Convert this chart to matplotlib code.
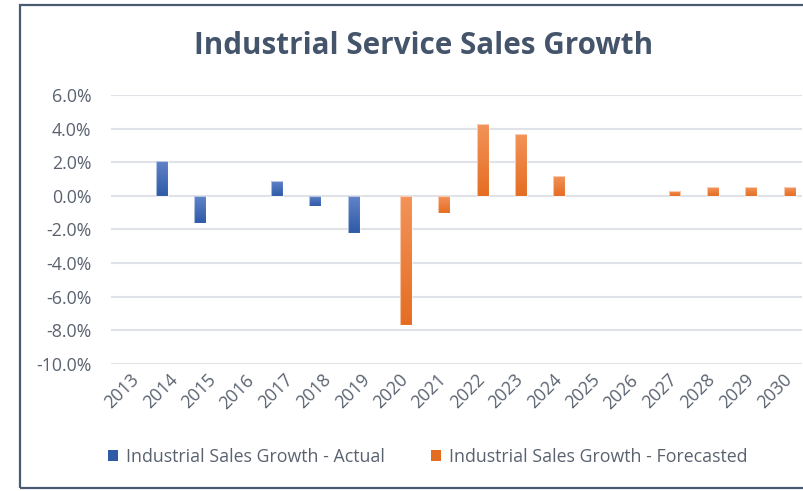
import numpy as np
import matplotlib
matplotlib.use("Agg")
import matplotlib.pyplot as plt
from matplotlib.patches import Rectangle, Patch
from matplotlib.colors import LinearSegmentedColormap
from matplotlib.ticker import FuncFormatter

plt.rcParams['font.family'] = ['Open Sans', 'DejaVu Sans']

years = [str(y) for y in range(2013, 2031)]
actual = [np.nan, 2.1, -1.6, np.nan, 0.9, -0.6, -2.2, np.nan, np.nan, np.nan,
          np.nan, np.nan, np.nan, np.nan, np.nan, np.nan, np.nan, np.nan]
forecast = [np.nan, np.nan, np.nan, np.nan, np.nan, np.nan, np.nan, -7.7, -1.0, 4.25,
            3.7, 1.2, np.nan, np.nan, 0.3, 0.5, 0.5, 0.5]
yticks = [6, 4, 2, 0, -2, -4, -6, -8, -10]

series_names = ["Industrial Sales Growth - Actual", "Industrial Sales Growth - Forecasted"]
blue_top, blue_bottom = "#6184c8", "#2e5aa8"
orange_top, orange_bottom = "#f39359", "#e56d22"

fig = plt.figure(figsize=(8.04, 4.91), dpi=100)
ax = fig.add_axes([0.138, 0.2587, 0.8595, 0.5478])

x = np.arange(len(years))
width = 0.31
offset = 0.18


def gradient_bars(bars, c_top, c_bottom):
    cmap = LinearSegmentedColormap.from_list("g", [c_top, c_bottom])
    grad = np.linspace(0, 1, 256).reshape(-1, 1)
    for b in bars:
        h = b.get_height()
        if not np.isfinite(h):
            continue
        x0, y0 = b.get_x(), b.get_y()
        w = b.get_width()
        ylo, yhi = min(y0, y0 + h), max(y0, y0 + h)
        im = ax.imshow(grad, cmap=cmap, extent=[x0, x0 + w, ylo, yhi],
                       aspect='auto', origin='upper', zorder=3,
                       interpolation='bilinear')
        im.set_clip_path(b)
        b.set_facecolor('none')
        b.set_edgecolor((1, 1, 1, 0.55))
        b.set_linewidth(0.8)
        b.set_zorder(4)


b1 = ax.bar(x - offset, actual, width=width, zorder=3)
b2 = ax.bar(x + offset, forecast, width=width, zorder=3)
gradient_bars(b1, blue_top, blue_bottom)
gradient_bars(b2, orange_top, orange_bottom)

ax.set_xlim(-0.5, len(years) - 0.5)
ax.set_ylim(-10, 6)
ax.set_yticks(yticks)
ax.yaxis.set_major_formatter(FuncFormatter(lambda v, p: f"{v:.1f}%"))
ax.grid(axis='y', color='#dfe3e8', linewidth=1.5, zorder=0)
ax.set_axisbelow(True)
for s in ax.spines.values():
    s.set_visible(False)

ax.set_xticks(x)
ax.set_xticklabels(years, rotation=45, ha='right', rotation_mode='anchor')
ax.tick_params(axis='y', length=0, pad=14, labelsize=12.8, labelcolor='#5a6270')
ax.tick_params(axis='x', length=0, pad=5, labelsize=12.8, labelcolor='#5a6270')

fig.text(0.527, 0.907, "Industrial Service Sales Growth", ha='center', va='center',
         fontsize=21.3, fontweight='bold', color='#44546a')

handles = [Patch(facecolor=blue_bottom, edgecolor='none'),
           Patch(facecolor=orange_bottom, edgecolor='none')]
fig.legend(handles, series_names, loc='center', bbox_to_anchor=(0.532, 1 - 457 / 491),
           ncol=2, frameon=False, fontsize=12.8, labelcolor='#5a6270',
           handlelength=0.55, handleheight=0.55, handletextpad=0.45, columnspacing=2.6)

fig.patches.append(Rectangle((20 / 804, 1 - 488 / 491), 1.0, (488 - 5) / 491,
                             transform=fig.transFigure, fill=False,
                             edgecolor='#4a5a70', linewidth=1.6, zorder=10))

fig.savefig("out.png", dpi=100)
